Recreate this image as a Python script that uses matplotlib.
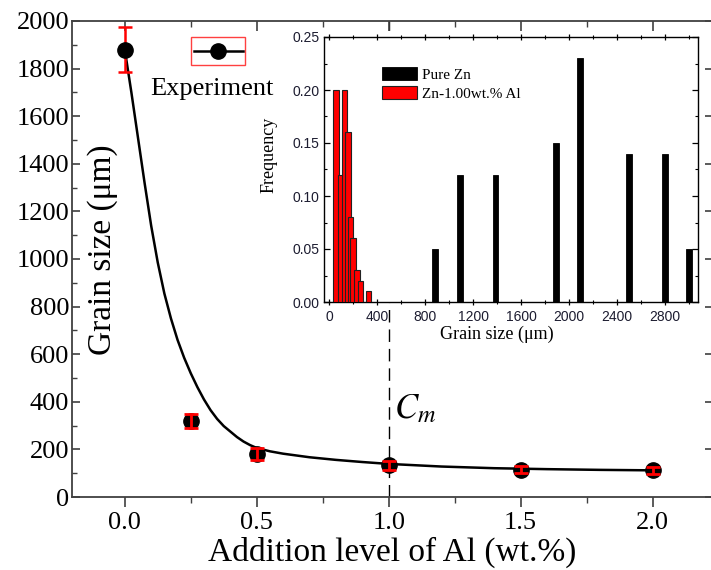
import matplotlib
matplotlib.use('Agg')
import matplotlib.pyplot as plt
from matplotlib.patches import Rectangle
from matplotlib.lines import Line2D
from matplotlib.ticker import MultipleLocator

plt.rcParams['font.family'] = ['Liberation Serif', 'DejaVu Serif']
plt.rcParams['mathtext.fontset'] = 'stix'

# main plot: grain size vs Al addition
al_level = [0.0, 0.25, 0.5, 1.0, 1.5, 2.0]
grain_size = [1880, 320, 180, 133, 115, 113]
grain_err = [93, 28, 25, 18, 15, 15]

# fitted curve
fit_x = [0, 0.025, 0.05, 0.075, 0.1, 0.125, 0.15, 0.175, 0.2, 0.225, 0.25,
         0.275, 0.3, 0.325, 0.35, 0.375, 0.4, 0.425, 0.45, 0.475, 0.5, 0.55,
         0.6, 0.7, 0.8, 0.9, 1.0, 1.2, 1.4, 1.6, 1.8, 2.0]
fit_y = [1880, 1700, 1510, 1320, 1140, 985, 855, 750, 660, 585, 520,
         462, 410, 365, 328, 298, 275, 252, 233, 218, 206, 192,
         182, 167, 156, 147, 139, 128, 121, 117, 114, 112]

# inset histogram
pure_zn_x = [92, 205, 885, 1089, 1388, 1892, 2090, 2497, 2799, 2997]
pure_zn_f = [0.07, 0.03, 0.05, 0.12, 0.12, 0.15, 0.23, 0.14, 0.14, 0.05]
znal_x = [58, 95, 128, 156, 178, 200, 231, 262, 328]
znal_f = [0.20, 0.12, 0.20, 0.16, 0.08, 0.06, 0.03, 0.02, 0.01]

fig = plt.figure(figsize=(7.11, 5.70), dpi=100)
ax = fig.add_axes([72 / 711, 73 / 570, 641 / 711, 476 / 570])

spine_c = '#404040'
for s in ax.spines.values():
  s.set_color(spine_c)
  s.set_linewidth(1.3)

ax.plot(fit_x, fit_y, color='black', lw=1.8, zorder=2)
ax.axvline(1.0, color='black', lw=1.0, ls=(0, (9, 5)), zorder=1)

# first point: marker over the red bar, others: red bar over the marker
ax.errorbar(al_level[:1], grain_size[:1], yerr=grain_err[:1], fmt='none',
            ecolor='red', elinewidth=1.8, capsize=5, capthick=1.8, zorder=3)
ax.plot(al_level, grain_size, 'o', color='black', ms=11, zorder=4)
ax.errorbar(al_level[1:], grain_size[1:], yerr=grain_err[1:], fmt='none',
            ecolor='red', elinewidth=2.0, capsize=5, capthick=2.0, zorder=5)

ax.set_xlim(-0.2, 2.229)
ax.set_ylim(0, 2000)
ax.xaxis.set_major_locator(MultipleLocator(0.5))
ax.xaxis.set_minor_locator(MultipleLocator(0.25))
ax.yaxis.set_major_locator(MultipleLocator(200))
ax.yaxis.set_minor_locator(MultipleLocator(100))
ax.xaxis.set_major_formatter(plt.FormatStrFormatter('%.1f'))

ax.tick_params(axis='x', which='both', bottom=True, top=True, direction='out',
               labelsize=19, pad=4, color=spine_c)
ax.tick_params(axis='x', which='major', length=7, width=1.2)
ax.tick_params(axis='x', which='minor', length=4, width=1.0)
ax.tick_params(axis='y', which='both', left=True, right=True, direction='in',
               labelsize=19, pad=2, color=spine_c)
ax.tick_params(axis='y', which='major', length=6, width=1.2)
ax.tick_params(axis='y', which='minor', length=3.5, width=1.0)
ax.tick_params(axis='y', which='minor', right=False)
ax.tick_params(axis='y', which='major', labelright=False)
for t in ax.xaxis.get_ticklines(minor=False)[1::2] + ax.xaxis.get_ticklines(minor=True)[1::2]:
  t.set_marker(3)  # top ticks pointing in

ax.set_xlabel('Addition level of Al (wt.%)', fontsize=24, labelpad=2)
ax.set_ylabel('Grain size (\u03bcm)', fontsize=24, va='center')
ax.yaxis.set_label_coords(0.047, 0.52)

ax.text(1.02, 365, '$C_m$', fontsize=25, va='center', ha='left')

# legend drawn Origin-style
ax.add_patch(Rectangle((0.186, 0.908), 0.084, 0.058, transform=ax.transAxes,
                       fill=False, edgecolor='#ff4040', lw=1.0, zorder=6))
ax.add_line(Line2D([0.19, 0.266], [0.936, 0.936], transform=ax.transAxes,
                   color='black', lw=1.8, zorder=6))
ax.add_line(Line2D([0.228], [0.936], transform=ax.transAxes, marker='o',
                   color='black', ms=11, zorder=7))
ax.text(0.218, 0.858, 'Experiment', transform=ax.transAxes, fontsize=19,
        ha='center', va='center')

# inset
ins = fig.add_axes([324 / 711, 268 / 570, 374 / 711, 265 / 570])
ins.set_facecolor('white')
ins.set_zorder(10)
ins.bar(pure_zn_x, pure_zn_f, width=48, color='black', edgecolor='black',
        lw=0.6, label='Pure Zn', zorder=2)
ins.bar(znal_x, znal_f, width=46, color='#ff0000', edgecolor='#222222',
        lw=0.8, label='Zn-1.00wt.% Al', zorder=3)
ins.set_xlim(-42, 3075)
ins.set_ylim(0, 0.25)
ins.xaxis.set_major_locator(MultipleLocator(400))
ins.xaxis.set_minor_locator(MultipleLocator(200))
ins.yaxis.set_major_locator(MultipleLocator(0.05))
ins.yaxis.set_minor_locator(MultipleLocator(0.025))
ins.yaxis.set_major_formatter(plt.FormatStrFormatter('%.2f'))
for s in ins.spines.values():
  s.set_linewidth(1.0)
ins.tick_params(axis='both', which='both', top=True, right=True,
                direction='in', labelsize=10)
ins.tick_params(axis='x', which='both', bottom=True, direction='inout')
ins.tick_params(which='major', length=4, width=0.9)
ins.tick_params(which='minor', length=2.5, width=0.8)
for lab in ins.get_xticklabels() + ins.get_yticklabels():
  lab.set_family(['Liberation Sans', 'DejaVu Sans'])
  lab.set_color('#1c1c30')
ins.set_xlabel('Grain size (\u03bcm)', fontsize=13, labelpad=1)
ins.set_ylabel('Frequency', fontsize=13, labelpad=2)
ins.xaxis.set_label_coords(0.463, -0.09)
ins.yaxis.set_label_coords(-0.125, 0.555)
ins.legend(loc='upper left', bbox_to_anchor=(0.155, 0.885), frameon=False,
           fontsize=11, handlelength=2.3, handleheight=0.9, labelspacing=0.25,
           handletextpad=0.3, borderpad=0, borderaxespad=0)

fig.savefig('out.png', dpi=100, facecolor='white')
